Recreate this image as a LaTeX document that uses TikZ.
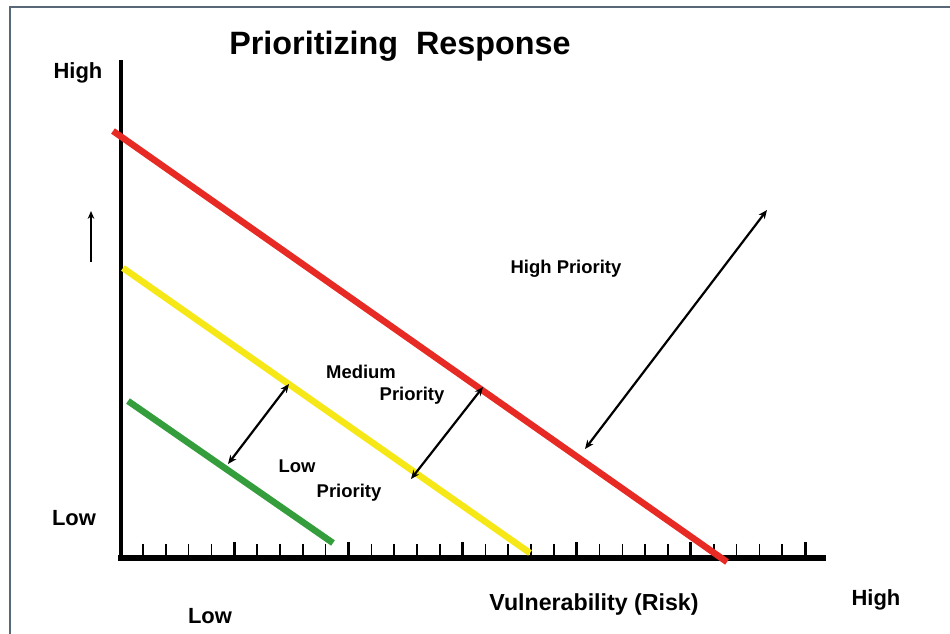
\documentclass[tikz,border=0pt]{standalone}
\usepackage{fontspec}
\setmainfont{Liberation Sans}
\usetikzlibrary{arrows.meta}
\definecolor{framec}{RGB}{88,104,118}
\definecolor{redl}{RGB}{232,42,36}
\definecolor{yell}{RGB}{246,232,22}
\definecolor{grnl}{RGB}{52,158,60}
\tikzset{
  lbl/.style={font=\bfseries\fontsize{10.5pt}{12pt}\selectfont, inner sep=0pt},
  axlbl/.style={font=\bfseries\fontsize{12.5pt}{14pt}\selectfont, inner sep=0pt},
  band/.style={line width=3.7pt, line cap=butt},
  dbl/.style={line width=1.25pt, {Stealth[length=5pt,width=4.2pt]}-{Stealth[length=5pt,width=4.2pt]}},
  tick/.style={line width=0.9pt},
  bigtick/.style={line width=1.7pt}
}
\begin{document}
\begin{tikzpicture}[x=0.02cm,y=-0.02cm]
\useasboundingbox (0,0) rectangle (950,634);
\fill[white] (0,0) rectangle (950,634);
% frame
\draw[framec, line width=1.42pt] (10,634) -- (10,7) -- (950,7);
% title
\node[font=\bfseries\fontsize{18.4pt}{21pt}\selectfont, inner sep=0pt] (title) at (400,46) {Prioritizing~~Response};
% axes
\coordinate (o) at (121,558);
\coordinate (ytop) at (121,60);
\coordinate (xend) at (826,558);
\draw[line width=2.27pt] (ytop) -- (121,561);
\draw[line width=3.4pt] (118,558) -- (xend);
% ticks
\foreach \i in {0,...,29}{
  \pgfmathsetmacro{\xx}{143+\i*22.83}
  \pgfmathtruncatemacro{\m}{mod(\i+1,5)}
  \ifnum\m=0
    \draw[bigtick] (\xx,542) -- (\xx,556);
  \else
    \draw[tick] (\xx,544) -- (\xx,556);
  \fi
}
% bands
\coordinate (r1) at (113,131);
\coordinate (r2) at (727,562);
\coordinate (y1) at (123,268);
\coordinate (y2) at (530,553);
\coordinate (g1) at (128,401);
\coordinate (g2) at (333,543);
\draw[band, redl] (r1) -- (r2);
\draw[band, yell] (y1) -- (y2);
\draw[band, grnl] (g1) -- (g2);
% arrows
\coordinate (a1s) at (228,464);
\coordinate (a1e) at (289,384);
\coordinate (a2s) at (411,479);
\coordinate (a2e) at (483,387);
\coordinate (a3s) at (585,449);
\coordinate (a3e) at (767,210);
\draw[dbl] (a1s) -- (a1e);
\draw[dbl] (a2s) -- (a2e);
\draw[dbl] (a3s) -- (a3e);
\coordinate (u1) at (91,262);
\coordinate (u2) at (91,211);
\draw[line width=0.9pt, -{Stealth[length=4.5pt,width=3.8pt]}] (u1) -- (u2);
% labels
\node[axlbl] (yhigh) at (78,73) {High};
\node[axlbl] (ylow) at (74,518) {Low};
\node[axlbl] (xlow) at (210,616) {Low};
\node[axlbl] (xhigh) at (876,600) {High};
\node[font=\bfseries\fontsize{13.2pt}{15pt}\selectfont, inner sep=0pt] (xtitle) at (594,605) {Vulnerability (Risk)};
\node[lbl] (hp) at (566,269) {High Priority};
\node[lbl] (mp1) at (361,372) {Medium};
\node[lbl] (mp2) at (412,396) {Priority};
\node[lbl] (lp1) at (297,466) {Low};
\node[lbl] (lp2) at (349,493) {Priority};
\end{tikzpicture}
\end{document}
